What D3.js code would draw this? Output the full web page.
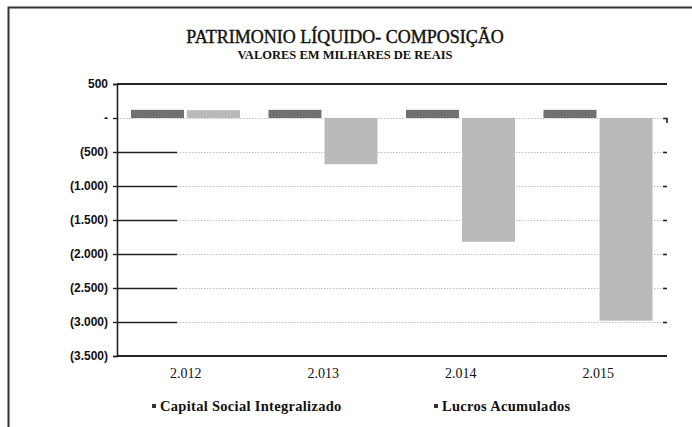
<!DOCTYPE html>
<html>
<head>
<meta charset="utf-8">
<script src="https://cdn.jsdelivr.net/npm/d3@7"></script>
<style>
  body { margin: 0; background: #fff; }
  svg { display: block; }
</style>
</head>
<body>
<div id="chart"></div>
<script>
// values (milhares de reais)
const years = ["2.012", "2.013", "2.014", "2.015"];
const seriesNames = ["Capital Social Integralizado", "Lucros Acumulados"];
const capitalSocial = [120, 120, 120, 120];
const lucrosAcumulados = [115, -680, -1820, -2980];
const yTicks = [500, 0, -500, -1000, -1500, -2000, -2500, -3000, -3500];

const width = 692, height = 427;
const serif = "'Liberation Serif','DejaVu Serif',serif";
const sans = "'Liberation Sans',Arial,sans-serif";
const colors = ["#707070", "#bababa"];

let svg = d3.select("#chart").append("svg")
    .attr("width", width)
    .attr("height", height);

// frame (left and top only, like the scan)
svg.append("path")
    .attr("d", "M8.5,430 L8.5,7.5 L700,7.5")
    .attr("fill", "none")
    .attr("stroke", "#333")
    .attr("stroke-width", 2);

// titles
svg.append("text")
    .attr("x", 345).attr("y", 43)
    .attr("text-anchor", "middle")
    .style("font-family", serif)
    .style("font-size", "18px")
    .attr("fill", "#111")
    .attr("stroke", "#111")
    .attr("stroke-width", 0.4)
    .text("PATRIMONIO LÍQUIDO- COMPOSIÇÃO");

svg.append("text")
    .attr("x", 345).attr("y", 59)
    .attr("text-anchor", "middle")
    .style("font-family", serif)
    .style("font-size", "12.5px")
    .style("font-weight", "bold")
    .attr("fill", "#111")
    .text("VALORES EM MILHARES DE REAIS");

const plotLeft = 117, plotRight = 667, plotTop = 84, plotBottom = 356;

let x = d3.scaleBand().domain(years).range([plotLeft, plotRight]);
let xs = d3.scaleBand().domain(seriesNames).range([14, 123]).paddingInner(0.055);
let y = d3.scaleLinear().domain([-3500, 500]).range([plotBottom, plotTop]);

// dotted gridlines
svg.append("g")
    .selectAll("line")
    .data(yTicks.filter(d => d <= 0 && d > -3500))
    .join("line")
    .attr("x1", plotLeft).attr("x2", plotRight)
    .attr("y1", d => Math.round(y(d)) + 0.5)
    .attr("y2", d => Math.round(y(d)) + 0.5)
    .attr("stroke", "#bdbdbd")
    .attr("stroke-dasharray", "1.5,1.5");

// bars
const rows = years.map((yr, i) => ({ year: yr, values: [capitalSocial[i], lucrosAcumulados[i]] }));
svg.append("g")
    .selectAll("g")
    .data(rows)
    .join("g")
    .attr("transform", d => `translate(${x(d.year)},0)`)
    .selectAll("rect")
    .data(d => d.values.map((v, k) => ({ key: seriesNames[k], v: v, k: k })))
    .join("rect")
    .attr("x", d => xs(d.key))
    .attr("width", xs.bandwidth())
    .attr("y", d => y(Math.max(0, d.v)))
    .attr("height", d => Math.abs(y(d.v) - y(0)))
    .attr("fill", d => colors[d.k]);

// left heavy tick segments
svg.append("g")
    .selectAll("line")
    .data(yTicks.filter(d => d < 0 && d > -3500))
    .join("line")
    .attr("x1", plotLeft).attr("x2", plotLeft + 60)
    .attr("y1", d => Math.round(y(d)) + 0.5)
    .attr("y2", d => Math.round(y(d)) + 0.5)
    .attr("stroke", "#222")
    .attr("stroke-width", 1.6);

// small right ticks
svg.append("g")
    .selectAll("line")
    .data(yTicks.filter(d => d < 0 && d > -3500))
    .join("line")
    .attr("x1", plotRight - 4).attr("x2", plotRight)
    .attr("y1", d => Math.round(y(d)) + 0.5)
    .attr("y2", d => Math.round(y(d)) + 0.5)
    .attr("stroke", "#222")
    .attr("stroke-width", 1.6);
svg.append("path")
    .attr("d", `M${plotRight - 4},${y(0) + 0.5} H${plotRight} V${y(0) + 5}`)
    .attr("fill", "none")
    .attr("stroke", "#222")
    .attr("stroke-width", 1.6);

// y axis
const fmt = v => d3.format(",")(v).replace(",", ".");
let yAxis = d3.axisLeft(y)
    .tickValues(yTicks)
    .tickSize(4)
    .tickFormat(d => d === 0 ? "-" : (d < 0 ? "(" + fmt(-d) + ")" : fmt(d)));
let gy = svg.append("g")
    .attr("transform", `translate(${plotLeft},0)`)
    .call(yAxis);
gy.select(".domain").attr("stroke", "#222").attr("stroke-width", 1.6);
gy.selectAll(".tick line").attr("stroke", "#222").attr("stroke-width", 1.4);
gy.selectAll(".tick text")
    .attr("x", -9)
    .style("font-family", sans)
    .style("font-size", "12px")
    .style("font-weight", "bold")
    .attr("fill", "#111");

// top and bottom lines
[plotTop, plotBottom].forEach(v => {
    svg.append("line")
        .attr("x1", plotLeft).attr("x2", plotRight)
        .attr("y1", v).attr("y2", v)
        .attr("stroke", "#222")
        .attr("stroke-width", 2);
});

// x axis labels
let xAxis = d3.axisBottom(x).tickSize(0).tickPadding(12);
let gx = svg.append("g")
    .attr("transform", `translate(0,${plotBottom})`)
    .call(xAxis);
gx.select(".domain").remove();
gx.selectAll(".tick text")
    .style("font-family", serif)
    .style("font-size", "14px")
    .attr("fill", "#111");

// legend
const legendX = [152, 434];
let lg = svg.append("g")
    .selectAll("g")
    .data(seriesNames)
    .join("g")
    .attr("transform", (d, i) => `translate(${legendX[i]},411)`);
lg.append("rect")
    .attr("x", 0).attr("y", -7)
    .attr("width", 4).attr("height", 4)
    .attr("fill", "#333");
lg.append("text")
    .attr("x", 8).attr("y", 0)
    .style("font-family", serif)
    .style("font-size", "14.5px")
    .style("font-weight", "bold")
    .style("letter-spacing", "0.3px")
    .attr("fill", "#111")
    .text(d => d);
</script>
</body>
</html>
